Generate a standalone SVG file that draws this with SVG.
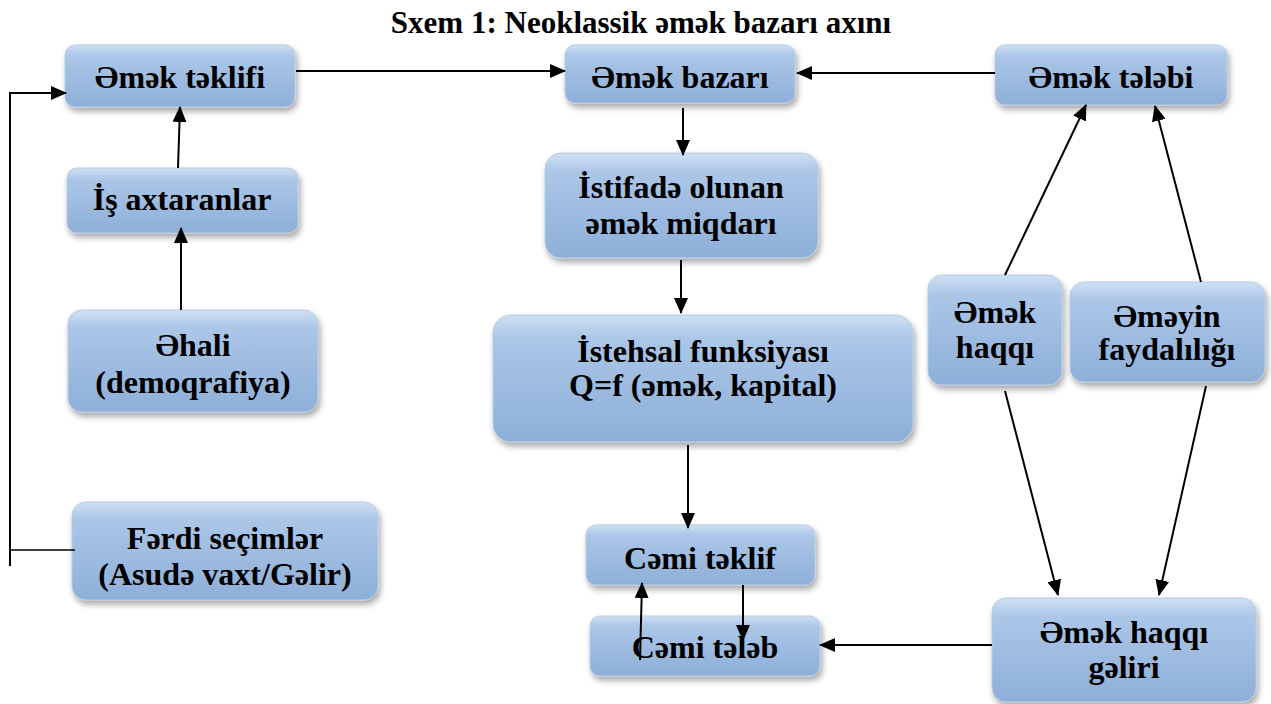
<svg xmlns="http://www.w3.org/2000/svg" width="1271" height="704" viewBox="0 0 1271 704">
<defs>
<linearGradient id="g" x1="0" y1="0" x2="0" y2="1">
<stop offset="0" stop-color="#cfe0f3"/>
<stop offset="0.18" stop-color="#abc6e7"/>
<stop offset="1" stop-color="#8eafd9"/>
</linearGradient>
<filter id="sh" x="-10%" y="-10%" width="125%" height="135%">
<feGaussianBlur in="SourceAlpha" stdDeviation="3"/>
<feOffset dx="2" dy="4" result="b"/>
<feComponentTransfer><feFuncA type="linear" slope="0.35"/></feComponentTransfer>
<feMerge><feMergeNode/><feMergeNode in="SourceGraphic"/></feMerge>
</filter>
<marker id="ar2" markerWidth="16" markerHeight="14" refX="15" refY="7" orient="auto" markerUnits="userSpaceOnUse" viewBox="0 0 16 14">
<path d="M0,0 L16,7 L0,14 z" fill="#000"/>
</marker>
</defs>
<style>
rect.box{fill:url(#g);stroke:#b8cce4;stroke-width:1;filter:url(#sh)}
line.c, polyline.c{stroke:#000;stroke-width:2;fill:none}
text.t{font-family:"Liberation Serif","Times New Roman",serif;font-weight:bold;font-size:32px;text-anchor:middle;fill:#000}
</style>
<text x="641" y="33" font-family="Liberation Serif, Times New Roman, serif" font-weight="bold" font-size="31" text-anchor="middle" fill="#000">Sxem 1: Neoklassik əmək bazarı axını</text>

<g id="n1"><rect class="box" x="65" y="45" width="230" height="62" rx="10"/><text class="t" x="180" y="88">Əmək təklifi</text></g>
<g id="n2"><rect class="box" x="565" y="45" width="230" height="58" rx="10"/><text class="t" x="680" y="88">Əmək bazarı</text></g>
<g id="n3"><rect class="box" x="995" y="45" width="232" height="60" rx="10"/><text class="t" x="1111" y="88">Əmək tələbi</text></g>
<g id="n4"><rect class="box" x="67" y="168" width="231" height="65" rx="10"/><text class="t" x="182" y="210">İş axtaranlar</text></g>
<g id="n5"><rect class="box" x="68" y="310" width="250" height="102" rx="14"/><text class="t" x="193" y="356">Əhali</text><text class="t" x="193" y="393">(demoqrafiya)</text></g>
<g id="n6"><rect class="box" x="72" y="502" width="306" height="98" rx="14"/><text class="t" x="225" y="549">Fərdi seçimlər</text><text class="t" x="225" y="585">(Asudə vaxt/Gəlir)</text></g>
<g id="n7"><rect class="box" x="545" y="153" width="273" height="105" rx="16"/><text class="t" x="681" y="198">İstifadə olunan</text><text class="t" x="681" y="234">əmək miqdarı</text></g>
<g id="n8"><rect class="box" x="493" y="315" width="420" height="127" rx="18"/><text class="t" x="703" y="362">İstehsal funksiyası</text><text class="t" x="703" y="396">Q=f (əmək, kapital)</text></g>
<g id="n9"><rect class="box" x="586" y="525" width="229" height="60" rx="10"/><text class="t" x="700" y="569">Cəmi təklif</text></g>
<g id="n10"><rect class="box" x="590" y="616" width="230" height="60" rx="10"/><text class="t" x="705" y="658">Cəmi tələb</text></g>
<g id="n11"><rect class="box" x="928" y="275" width="134" height="110" rx="14"/><text class="t" x="995" y="323">Əmək</text><text class="t" x="995" y="358">haqqı</text></g>
<g id="n12"><rect class="box" x="1070" y="282" width="195" height="100" rx="14"/><text class="t" x="1167" y="327">Əməyin</text><text class="t" x="1167" y="360">faydalılığı</text></g>
<g id="n13"><rect class="box" x="992" y="598" width="264" height="104" rx="14"/><text class="t" x="1124" y="643">Əmək haqqı</text><text class="t" x="1124" y="678">gəliri</text></g>

<g id="connectors">
<line class="c" x1="296" y1="71" x2="565" y2="71" marker-end="url(#ar2)"/>
<line class="c" x1="995" y1="73" x2="797" y2="73" marker-end="url(#ar2)"/>
<line class="c" x1="683" y1="108" x2="683" y2="155" marker-end="url(#ar2)"/>
<line class="c" x1="681" y1="260" x2="681" y2="313" marker-end="url(#ar2)"/>
<line class="c" x1="688" y1="445" x2="688" y2="528" marker-end="url(#ar2)"/>
<line class="c" x1="743" y1="585" x2="743" y2="640" marker-end="url(#ar2)"/>
<line class="c" x1="640" y1="660" x2="642" y2="583" marker-end="url(#ar2)"/>
<line class="c" x1="178" y1="168" x2="180" y2="107" marker-end="url(#ar2)"/>
<line class="c" x1="181" y1="310" x2="181" y2="228" marker-end="url(#ar2)"/>
<polyline class="c" points="10,566 10,93 66,93" marker-end="url(#ar2)"/>
<line class="c" x1="10" y1="550" x2="75" y2="550" style="stroke-width:1.5"/>
<line class="c" x1="1005" y1="275" x2="1086" y2="105" marker-end="url(#ar2)"/>
<line class="c" x1="1201" y1="282" x2="1155" y2="106" marker-end="url(#ar2)"/>
<line class="c" x1="1005" y1="391" x2="1058" y2="595" marker-end="url(#ar2)"/>
<line class="c" x1="1206" y1="386" x2="1159" y2="595" marker-end="url(#ar2)"/>
<line class="c" x1="992" y1="645" x2="820" y2="645" marker-end="url(#ar2)"/>
</g>
</svg>
